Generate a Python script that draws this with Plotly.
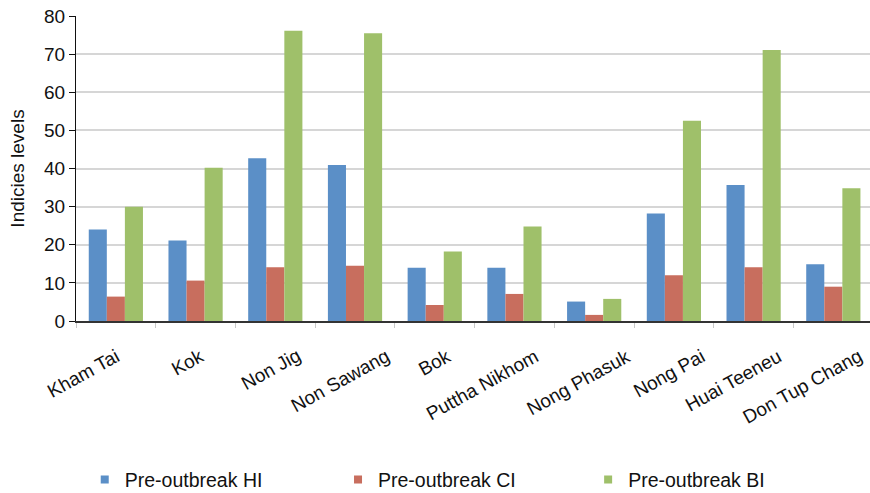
import plotly.graph_objects as go

# Villages surveyed and pre-outbreak larval indices
villages = ["Kham Tai", "Kok", "Non Jig", "Non Sawang", "Bok", "Puttha Nikhom",
            "Nong Phasuk", "Nong Pai", "Huai Teeneu", "Don Tup Chang"]
house_index = [24, 21.1, 42.7, 40.9, 14, 14, 5.1, 28.2, 35.7, 14.9]
container_index = [6.4, 10.6, 14.1, 14.5, 4.2, 7.1, 1.6, 12, 14.1, 9]
breteau_index = [30, 40.2, 76.1, 75.5, 18.2, 24.8, 5.8, 52.5, 71.1, 34.8]

series_names = ["Pre-outbreak HI", "Pre-outbreak CI", "Pre-outbreak BI"]
series_values = [house_index, container_index, breteau_index]
series_colors = ["#5b8fc7", "#c86e5e", "#9fc06a"]
y_ticks = [0, 10, 20, 30, 40, 50, 60, 70, 80]

# Horizontal nudge (px) of each slanted category label from its group centre
label_nudge = [10, 14, 31, 41, 22, 31, 42, 37, 34, 35]

FONT = "Liberation Sans, Arial, sans-serif"

fig = go.Figure()
for name, vals, col in zip(series_names, series_values, series_colors):
    fig.add_trace(go.Bar(x=villages, y=vals, name=name, marker_color=col,
                         marker_line_width=0, showlegend=False))

# Separate legends so each key sits at its own spot along the bottom
legend_x = [0.011, 0.330, 0.645]
for i, (name, col) in enumerate(zip(series_names, series_colors)):
    lg = "legend" if i == 0 else f"legend{i + 1}"
    fig.add_trace(go.Scatter(x=[None], y=[None], mode="markers", name=name,
                             marker=dict(symbol="square", size=8, color=col),
                             legend=lg, showlegend=True))

legend_common = dict(orientation="h", yanchor="middle", y=-0.521, xanchor="left",
                     font=dict(family=FONT, size=19.5, color="#111"),
                     bgcolor="rgba(0,0,0,0)", borderwidth=0)
layout_legends = {}
for i, lx in enumerate(legend_x):
    key = "legend" if i == 0 else f"legend{i + 1}"
    layout_legends[key] = dict(legend_common, x=lx)

# Slanted category labels under the axis
for v, dx in zip(villages, label_nudge):
    fig.add_annotation(x=v, xref="x", y=-0.0705, yref="paper",
                       xanchor="right", yanchor="top", textangle=-29,
                       xshift=dx, showarrow=False, text=v,
                       font=dict(family=FONT, size=19, color="#111"))

fig.update_layout(
    width=870, height=493,
    margin=dict(l=76, r=0, t=16, b=172, autoexpand=False),
    plot_bgcolor="white", paper_bgcolor="white",
    bargap=0.32, bargroupgap=0,
    barmode="group",
    font=dict(family=FONT, size=18, color="#111"),
    **layout_legends,
)

fig.update_xaxes(
    range=[-0.5, 9.46],
    showline=True, linecolor="#333", linewidth=1.5,
    tickson="boundaries", ticks="outside", ticklen=5, tickcolor="#c8c8c8",
    showticklabels=False,
    showgrid=False,
)
fig.update_yaxes(
    range=[0, 80], tickvals=y_ticks,
    showline=True, linecolor="#111", linewidth=1.2,
    ticks="outside", ticklen=6, tickcolor="#111",
    tickfont=dict(family=FONT, size=19, color="#111"),
    showgrid=True, gridcolor="#d6d6d6", gridwidth=1.8,
    zeroline=False,
    title=dict(text="Indicies levels", font=dict(family=FONT, size=19, color="#111"),
               standoff=14),
)

fig.write_html("out.html")
